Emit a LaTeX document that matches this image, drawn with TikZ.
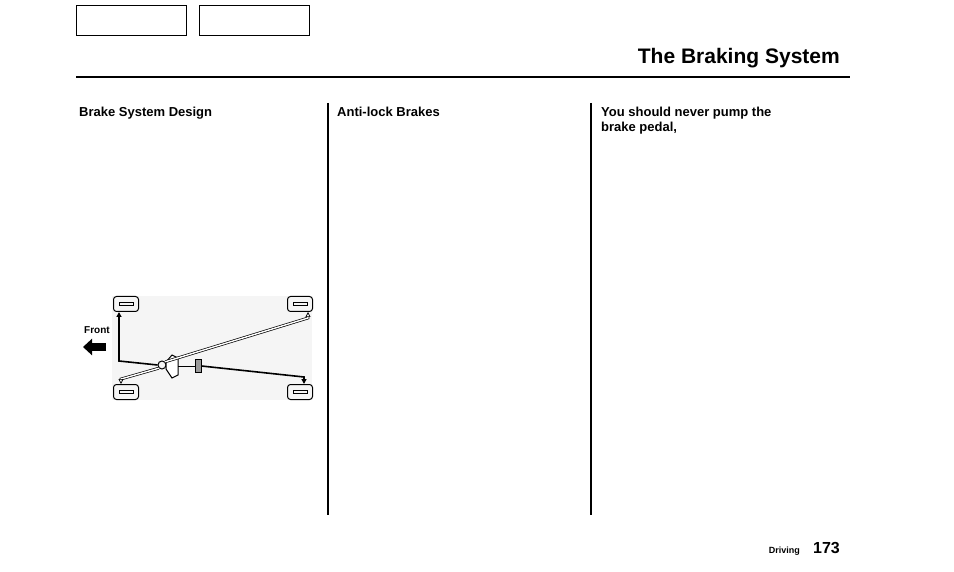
\documentclass[tikz,border=0pt]{standalone}
\usepackage{fontspec}
\setmainfont{Liberation Sans}
\usetikzlibrary{arrows.meta,positioning}
\tikzset{
  tabbox/.style={draw,line width=1pt,minimum width=110pt,minimum height=30pt,anchor=north west},
  colhead/.style={anchor=north west,font=\bfseries\fontsize{13}{15}\selectfont,align=left,inner sep=0pt},
  wheel/.style={draw,line width=1pt,rounded corners=3pt,minimum width=25pt,minimum height=15pt,inner sep=0pt},
  pipe/.style={line width=1.6pt},
  dpipe/.style={double,double distance=1.4pt,line width=0.7pt}
}
\begin{document}
\begin{tikzpicture}[x=1pt,y=-1pt]
\useasboundingbox (0,0) rectangle (954,572);
% tabs and title
\node[tabbox] (tab1) at (76,5) {};
\node[tabbox] (tab2) at (199,5) {};
\node[anchor=base east,font=\bfseries\fontsize{21}{24}\selectfont,inner sep=0pt] (title) at (840,64) {The Braking System};
\draw[line width=2.5pt] (76,77) -- (850,77);
% columns
\node[colhead] (h1) at (79,107) {Brake System Design};
\node[colhead] (h2) at (337,107) {Anti-lock Brakes};
\node[colhead] (h3) at (601,107) {You should never pump the\\brake pedal,};
\draw[line width=1.2pt] (328,103) -- (328,515);
\draw[line width=1.2pt] (591,103) -- (591,515);
% diagram
\fill[black!4] (112,296) rectangle (312,400);
\node[wheel] (fl) at (126,304) {};
\node[wheel] (fr) at (300,304) {};
\node[wheel] (rl) at (126,392) {};
\node[wheel] (rr) at (300,392) {};
\foreach \w in {fl,fr,rl,rr}
  \draw[line width=0.8pt] ([xshift=-7pt,yshift=-1pt]\w.center) rectangle ([xshift=7pt,yshift=2pt]\w.center);
\node[draw,circle,line width=1pt,minimum size=8pt,inner sep=0pt] (mc) at (162,365) {};
\draw[line width=1pt,fill=white] (166,362) -- (172,355) -- (178,358) -- (178,375) -- (172,378) -- (166,369) -- cycle;
\node[draw,fill=black!40,line width=1pt,minimum width=6pt,minimum height=13pt,inner sep=0pt] (blk) at (198,366) {};
\draw[line width=1pt] (178,366) -- (blk.west);
\coordinate (c1) at (119,361);
\coordinate (c2) at (304,377);
\draw[pipe,-{Triangle[length=5pt,width=5pt]}] (mc.west) -- (c1) -- (fl.south -| c1);
\draw[dpipe,-{Triangle[open,length=5pt,width=5pt]}] (mc.north east) -- (308,318) -- (fr.south -| 308,0);
\draw[dpipe,-{Triangle[open,length=5pt,width=5pt]}] (mc.south west) -- (121,379) -- (rl.north -| 121,0);
\draw[pipe,-{Triangle[length=5pt,width=5pt]}] (blk.east) -- (c2) -- (rr.north -| c2);
\node[font=\bfseries\fontsize{10}{12}\selectfont,inner sep=0pt] (front) at (97,330) {Front};
\draw[line width=8pt,-{Triangle[length=9pt,width=16pt]}] (106,347) -- (83,347);
% footer
\node[anchor=base east,font=\bfseries\fontsize{9}{11}\selectfont,inner sep=0pt] (sec) at (800,553) {Driving};
\node[anchor=base west,font=\bfseries\fontsize{16}{18}\selectfont,inner sep=0pt] (page) at (813,553) {173};
\end{tikzpicture}
\end{document}
